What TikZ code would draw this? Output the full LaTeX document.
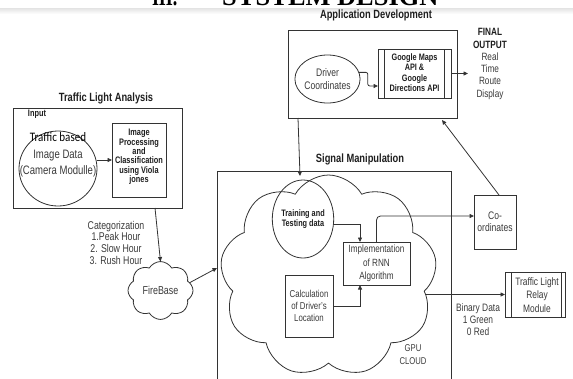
\documentclass[tikz,border=0pt]{standalone}
\usepackage{fontspec}
\setmainfont{Liberation Sans}[FakeStretch=0.78]
\newfontfamily\titlefont{Liberation Serif}
\newfontfamily\calfont{Carlito}[FakeStretch=0.85]
\usetikzlibrary{shapes.geometric,shapes.symbols,arrows.meta,calc}

\definecolor{ink}{HTML}{333333}
\definecolor{txt}{HTML}{3A3A3A}
\definecolor{head}{HTML}{1E1E1E}
\newcommand{\fsz}[2]{\fontsize{#1}{#2}\selectfont}

\begin{document}
\begin{tikzpicture}[x=1bp,y=-1bp,
  every node/.style={inner sep=0pt, outer sep=0pt, text=txt},
  ln/.style={draw=ink, line width=0.8bp},
  arr/.style={ln, -{Triangle[length=4.5bp,width=4bp]}},
  box/.style={ln, rectangle},
  oval/.style={ln, ellipse},
  ttl/.style={font=\bfseries\fsz{12}{14}, text=head},
  puff/.style={ln, cloud, cloud puff arc=120}
]
\useasboundingbox (0,0) rectangle (573,378);

% page header strip
\shade[top color=gray!20, bottom color=white] (0,8.5) rectangle (573,14);
\node[anchor=base west, font=\titlefont\bfseries\fsz{26.5}{30}, text=black] (hnum) at (152,5) {\scalebox{0.68}[1]{III.}};
\node[anchor=base west, font=\titlefont\bfseries\fsz{26.5}{30}, text=black] (hname) at (222,5) {SYSTEM DESIGN};

% ---------- Application Development ----------
\node[ttl] (appttl) at (376,15) {Application Development};
\node[box, minimum width=169bp, minimum height=88bp] (app) at (372.5,74) {};
\node[oval, minimum width=59bp, minimum height=48bp, align=center, font=\fsz{11}{13.3}] (drv) at (327.5,79) {Driver\\Coordinates};
\node[box, minimum width=73bp, minimum height=49bp] (gmap) at (414.5,73.5) {};
\draw[ln] ($(gmap.north west)+(6.5,0)$) -- ($(gmap.south west)+(6.5,0)$);
\draw[ln] ($(gmap.north east)+(-6.5,0)$) -- ($(gmap.south east)+(-6.5,0)$);
\node[align=center, font=\bfseries\fsz{9.4}{10.6}, text=head] (gmaptxt) at (414.5,72.5) {Google Maps\\API \&\\Google\\Directions API};
\node[align=center, font=\fsz{10.6}{12.3}] (fo) at (490,64) {\textcolor{head}{\textbf{FINAL}}\\\textcolor{head}{\textbf{OUTPUT}}\\Real\\Time\\Route\\Display};
\coordinate (foin) at (468,73.5);

\draw[arr, rounded corners=2bp] (drv.12) -- ++(9,0) |- ($(gmap.west)+(0,12.5)$);
\draw[arr] (gmap.east) -- (foin);

% ---------- Traffic Light Analysis ----------
\node[ttl] (tlattl) at (106,98) {Traffic Light Analysis};
\node[box, minimum width=169bp, minimum height=100bp] (tla) at (97.5,158) {};
\node[font=\bfseries\fsz{9.5}{11}, text=head] (inp) at (37,114) {Input};
\node[oval, minimum width=78bp, minimum height=75bp] (cam) at (58,168.5) {};
\node[anchor=base, font=\calfont\fsz{13}{15}, text=black] (camA) at (58,141.5) {Traffic based};
\node[anchor=base, font=\fsz{12.3}{16}] (camB) at (58,158.5) {Image Data};
\node[anchor=base, font=\fsz{12.3}{16}] (camC) at (58,174.5) {(Camera Modulle)};
\node[box, minimum width=54bp, minimum height=74bp] (improc) at (139,160) {};
\node[align=center, font=\bfseries\fsz{9.5}{9.4}, text=head] (improctxt) at (139,157) {Image\\Processing\\and\\Classification\\using Viola\\jones};
\draw[arr] (cam.east |- improc.west) -- (improc.west);

\node[align=center, font=\fsz{11.3}{11.7}] (cat) at (116,242.5) {Categorization\\1.Peak Hour\\2. Slow Hour\\3. Rush Hour};
\node[puff, cloud puffs=8, minimum width=65bp, minimum height=57bp, font=\fsz{11.5}{13}] (fb) at (160.5,290.5) {FireBase};
\draw[arr] ($(tla.south west)+(142,0)$) -- (fb.north);

% ---------- Signal Manipulation ----------
\node[ttl] (sigttl) at (360,159) {Signal Manipulation};
\node[box, anchor=north west, minimum width=234bp, minimum height=230bp] (sig) at (217,171) {};
\node[puff, cloud puffs=9, minimum width=217bp, minimum height=202bp] (cl) at (328.5,276) {};
\coordinate (clin) at (300,176);
\draw[arr] ($(app.south west)+(10,0)$) -- (clin);
\draw[arr] (fb.15) -- ($(sig.north west)+(0,97)$);

\node[oval, minimum width=50bp, minimum height=78bp, align=center, font=\bfseries\fsz{9.4}{10}, text=head] (train) at (303,219) {Training and\\Testing data};
\node[box, minimum width=67bp, minimum height=43bp, align=center, font=\fsz{10.5}{13.3}] (impl) at (376.5,263.5) {Implementation\\of RNN\\Algorithm};
\node[box, minimum width=48bp, minimum height=62bp, align=center, font=\fsz{10.1}{11.7}] (calc) at (309,306) {Calculation\\of Driver's\\Location};
\node[align=center, font=\fsz{9.9}{13}] (gpu) at (413,355) {GPU\\CLOUD};

\draw[arr] (train.-10) -| ($(impl.north west)+(17,0)$);
\draw[arr] (calc.east) -| ($(impl.south west)+(17,0)$);

% ---------- outputs ----------
\node[box, minimum width=42bp, minimum height=54bp, align=center, font=\fsz{11}{12.3}] (coord) at (495,222) {Co-\\ordinates};
\draw[arr, rounded corners=4bp] (impl.north) |- ($(coord.west)+(0,-6)$);
\draw[arr] ($(coord.north)+(4,0)$) -- ($(app.south east)+(-15,2)$);

\node[box, minimum width=60bp, minimum height=45bp] (relay) at (535,294.5) {};
\draw[ln] ($(relay.north west)+(6,0)$) -- ($(relay.south west)+(6,0)$);
\draw[ln] ($(relay.north east)+(-3.5,0)$) -- ($(relay.south east)+(-3.5,0)$);
\node[align=center, font=\fsz{10.8}{13.3}] (relaytxt) at (537,295) {Traffic Light\\Relay\\Module};
\coordinate (binsrc) at (425,294.5);
\draw[arr] (binsrc) -- (relay.west);
\node[align=center, font=\fsz{10.8}{12.3}] (bin) at (478,319.5) {Binary Data\\1 Green\\0 Red};
\end{tikzpicture}
\end{document}
